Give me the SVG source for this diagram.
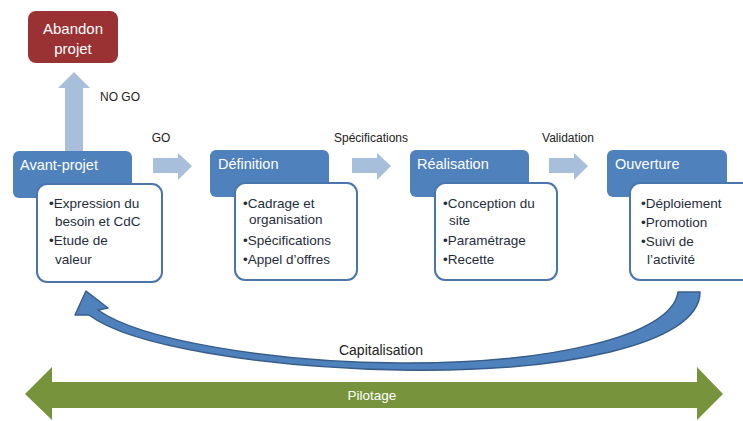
<svg xmlns="http://www.w3.org/2000/svg" width="743" height="421" viewBox="0 0 743 421">
<style>
text{font-family:"Liberation Sans",Arial,sans-serif}
.hdr{fill:#4f81bd}
.htxt{fill:#fff;font-size:14.5px}
.box{fill:#fff;stroke:#4a76ad;stroke-width:2}
.btxt{fill:#1f2d3d;font-size:13.5px}
.lbl{fill:#222;font-size:12px}
.flow{fill:#a8bfdc}
</style>
<rect width="743" height="421" fill="#fff"/>
<g id="connectors">
<path class="flow" d="M65 151 L65 88 L58 88 L74 72 L90 88 L83 88 L83 151 Z"/>
<path class="flow" d="M153 158 L178 158 L178 153 L192 166 L178 180 L178 173 L153 173 Z"/>
<path class="flow" d="M352 158 L377 158 L377 153 L391 166 L377 180 L377 173 L352 173 Z"/>
<path class="flow" d="M549 158 L574 158 L574 153 L588 166 L574 180 L574 173 L549 173 Z"/>
<text class="lbl" x="100" y="101" font-size="11.5">NO GO</text>
<text class="lbl" x="161" y="142" text-anchor="middle">GO</text>
<text class="lbl" x="371" y="142" text-anchor="middle">Spécifications</text>
<text class="lbl" x="568" y="142" text-anchor="middle">Validation</text>
<path id="capitalisation-arrow" d="M678 292 L700 292 C700 345 560 373 400 370 C260 367 130 346 89 315 L75 315 L86 291 L108 308 L98 310 C140 340 270 362 400 363 C550 364 672 336 678 292 Z" fill="#4f81bd" stroke="#385d8a" stroke-width="1.5" stroke-linejoin="round"/>
<text x="381" y="355" text-anchor="middle" fill="#222" font-size="14">Capitalisation</text>
</g>
<g id="abandon">
<rect x="28" y="11" width="90" height="52" rx="8" fill="#9a3234"/>
<text x="73" y="34" text-anchor="middle" fill="#fff" font-size="15">Abandon</text>
<text x="73" y="54" text-anchor="middle" fill="#fff" font-size="15">projet</text>
</g>
<g id="avant-projet">
<rect class="hdr" x="13" y="151" width="119" height="47" rx="6"/>
<text class="htxt" x="20" y="170">Avant-projet</text>
<rect class="box" x="37" y="184" width="125" height="98" rx="10"/>
<text class="btxt" x="49" y="208">•Expression du</text>
<text class="btxt" x="55" y="226">besoin et CdC</text>
<text class="btxt" x="49" y="245">•Etude de</text>
<text class="btxt" x="55" y="264">valeur</text>
</g>
<g id="definition">
<rect class="hdr" x="210" y="150" width="119" height="47" rx="6"/>
<text class="htxt" x="218" y="169">Définition</text>
<rect class="box" x="235" y="183" width="122" height="97" rx="10"/>
<text class="btxt" x="243" y="208">•Cadrage et</text>
<text class="btxt" x="249" y="224">organisation</text>
<text class="btxt" x="243" y="245">•Spécifications</text>
<text class="btxt" x="243" y="264">•Appel d’offres</text>
</g>
<g id="realisation">
<rect class="hdr" x="410" y="150" width="119" height="47" rx="6"/>
<text class="htxt" x="417" y="169">Réalisation</text>
<rect class="box" x="435" y="183" width="122" height="97" rx="10"/>
<text class="btxt" x="443" y="208">•Conception du</text>
<text class="btxt" x="449" y="225">site</text>
<text class="btxt" x="443" y="245">•Paramétrage</text>
<text class="btxt" x="443" y="264">•Recette</text>
</g>
<g id="ouverture">
<rect class="hdr" x="607" y="150" width="120" height="47" rx="6"/>
<text class="htxt" x="615" y="169">Ouverture</text>
<rect class="box" x="630" y="183" width="125" height="97" rx="10"/>
<text class="btxt" x="641" y="208">•Déploiement</text>
<text class="btxt" x="641" y="227">•Promotion</text>
<text class="btxt" x="641" y="246">•Suivi de</text>
<text class="btxt" x="647" y="264">l’activité</text>
</g>
<g id="pilotage">
<path d="M25 394 L52 367 L52 382 L697 382 L697 367 L723 394 L697 420 L697 408 L52 408 L52 420 Z" fill="#77933c"/>
<text x="372" y="400" text-anchor="middle" fill="#fff" font-size="13.5">Pilotage</text>
</g>
</svg>
